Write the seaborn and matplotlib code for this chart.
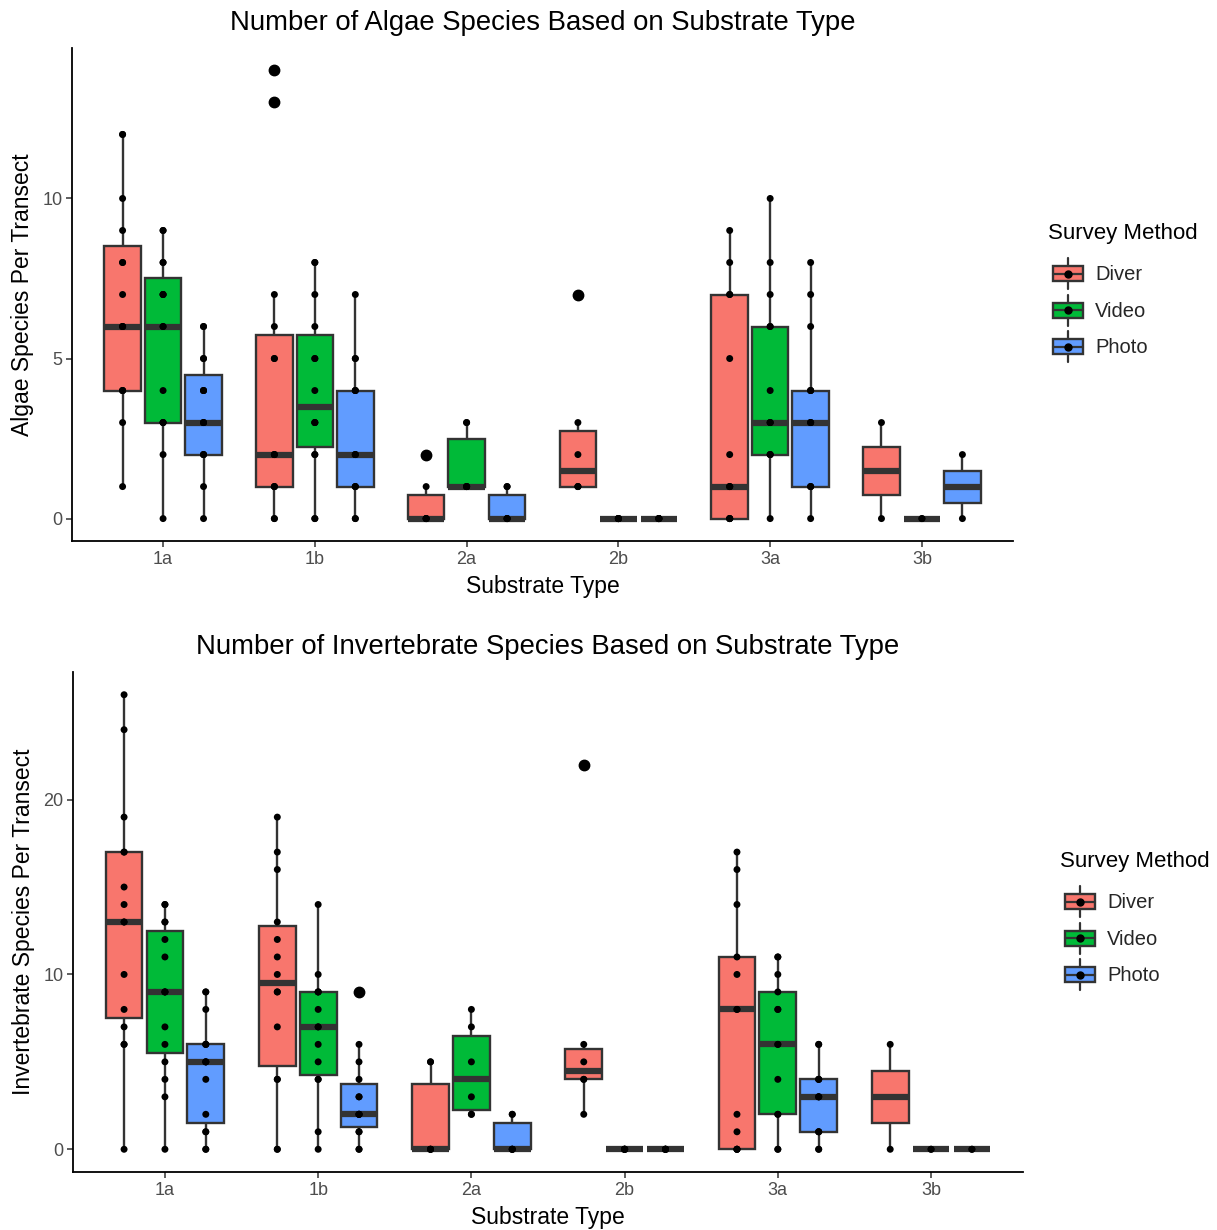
import numpy as np
import pandas as pd
import matplotlib
matplotlib.use("Agg")
import matplotlib.pyplot as plt
import seaborn as sns
from matplotlib.patches import Patch, Rectangle
from matplotlib.lines import Line2D
from matplotlib.legend_handler import HandlerBase

# ---------------- data ----------------
SUBSTRATES = ["1a", "1b", "2a", "2b", "3a", "3b"]
METHODS = ["Diver", "Video", "Photo"]

# Algae species per transect (one list per substrate, in SUBSTRATES order)
algae_diver = [
    [1, 3, 4, 4, 4, 6, 6, 6, 7, 8, 8, 9, 10, 12, 12],
    [0, 0, 1, 1, 1, 2, 2, 2, 5, 5, 6, 7, 13, 14],
    [0, 0, 0, 0, 1, 2],
    [1, 1, 1, 2, 3, 7],
    [0, 0, 0, 0, 1, 1, 1, 2, 5, 7, 7, 8, 9],
    [0, 3],
]
algae_video = [
    [0, 2, 3, 3, 3, 4, 6, 6, 7, 7, 7, 8, 8, 9, 9],
    [0, 0, 2, 2, 3, 3, 3, 4, 5, 5, 6, 7, 8, 8],
    [1, 1, 1, 1, 3, 3],
    [0, 0, 0, 0, 0, 0],
    [0, 2, 2, 2, 3, 3, 3, 4, 6, 6, 7, 8, 10],
    [0, 0],
]
algae_photo = [
    [0, 1, 2, 2, 2, 3, 3, 3, 4, 4, 4, 5, 5, 6, 6],
    [0, 0, 1, 1, 1, 2, 2, 2, 4, 4, 4, 5, 5, 7],
    [0, 0, 0, 0, 1, 1],
    [0, 0, 0, 0, 0, 0],
    [0, 1, 1, 1, 3, 3, 3, 4, 4, 4, 6, 7, 8],
    [0, 2],
]

# Invertebrate species per transect
invert_diver = [
    [0, 6, 6, 7, 8, 10, 13, 13, 14, 15, 17, 17, 19, 24, 26],
    [0, 0, 4, 4, 7, 9, 9, 10, 11, 12, 13, 16, 17, 19],
    [0, 0, 0, 0, 5, 5],
    [2, 4, 4, 5, 6, 22],
    [0, 0, 0, 0, 1, 2, 8, 8, 10, 11, 14, 16, 17],
    [0, 6],
]
invert_video = [
    [0, 3, 4, 5, 6, 7, 9, 9, 9, 11, 12, 13, 13, 14, 14],
    [0, 1, 4, 4, 5, 6, 7, 7, 8, 9, 9, 9, 10, 14],
    [2, 2, 3, 5, 7, 8],
    [0, 0, 0, 0, 0, 0],
    [0, 0, 2, 2, 4, 6, 6, 8, 8, 9, 10, 11, 11],
    [0, 0],
]
invert_photo = [
    [0, 0, 1, 1, 2, 4, 5, 5, 5, 6, 6, 6, 8, 9, 9],
    [0, 0, 1, 1, 2, 2, 2, 2, 3, 3, 4, 5, 6, 9],
    [0, 0, 0, 0, 2, 2],
    [0, 0, 0, 0, 0, 0],
    [0, 0, 1, 1, 1, 3, 3, 3, 4, 4, 4, 6, 6],
    [0, 0],
]

ALGAE_TICKS = [0, 5, 10]
INVERT_TICKS = [0, 10, 20]

# ---------------- style ----------------
sns.set_theme(style="white")
plt.rcParams["font.family"] = ["Liberation Sans", "DejaVu Sans"]

COLORS = {"Diver": "#F8766D", "Video": "#00BA38", "Photo": "#619CFF"}
EDGE = "#333333"


def long_df(diver, video, photo):
    rows = []
    for method, series in zip(METHODS, (diver, video, photo)):
        for sub, vals in zip(SUBSTRATES, series):
            for v in vals:
                rows.append((sub, method, v))
    return pd.DataFrame(rows, columns=["Substrate", "Method", "Count"])


class BoxKey(HandlerBase):
    def create_artists(self, legend, orig_handle, xdescent, ydescent,
                       width, height, fontsize, trans):
        fc = orig_handle.get_facecolor()
        cx = -xdescent + width / 2
        cy = -ydescent + height / 2
        bw = width * 0.97
        bh = height * 0.48
        rect = Rectangle((cx - bw / 2, cy - bh / 2), bw, bh, facecolor=fc,
                         edgecolor=EDGE, lw=1.7, transform=trans)
        wl = Line2D([cx, cx], [-ydescent, cy - bh / 2], color=EDGE, lw=1.6,
                    transform=trans)
        wu = Line2D([cx, cx], [cy + bh / 2, -ydescent + height], color=EDGE,
                    lw=1.6, transform=trans)
        med = Line2D([cx - bw / 2, cx + bw / 2], [cy, cy], color=EDGE, lw=1.6,
                     transform=trans)
        dot = Line2D([cx], [cy], marker="o", ms=5, color="black",
                     linestyle="none", transform=trans)
        return [rect, wl, wu, med, dot]


W, H = 1217, 1230
fig = plt.figure(figsize=(W / 100, H / 100), dpi=100)
fig.patch.set_facecolor("white")


def add_ax(l, t, r, b):
    return fig.add_axes([l / W, 1 - b / H, (r - l) / W, (b - t) / H])


def draw(ax, df, ylim, yticks, title, ylabel, title_xy, leg_xy):
    sns.boxplot(data=df, x="Substrate", y="Count", hue="Method",
                order=SUBSTRATES, hue_order=METHODS, palette=COLORS,
                saturation=1, width=0.8, gap=0.1, linecolor=EDGE,
                linewidth=1.7, showcaps=False,
                flierprops=dict(marker="o", markerfacecolor="black",
                                markeredgecolor="black", markersize=7.5),
                medianprops=dict(color=EDGE, linewidth=4.5),
                legend=False, ax=ax)
    sns.stripplot(data=df, x="Substrate", y="Count", hue="Method",
                  order=SUBSTRATES, hue_order=METHODS,
                  palette={m: "black" for m in METHODS}, dodge=True,
                  jitter=False, size=5, legend=False, zorder=4, ax=ax)
    ax.set_xlim(-0.6, 5.6)
    ax.set_ylim(*ylim)
    ax.set_yticks(yticks)
    for s in ("top", "right"):
        ax.spines[s].set_visible(False)
    for s in ("left", "bottom"):
        ax.spines[s].set_color("black")
        ax.spines[s].set_linewidth(1.3)
    ax.tick_params(bottom=True, left=True, direction="out", length=4,
                   width=1.1, color=EDGE, labelcolor="#4D4D4D",
                   labelsize=13, pad=3)
    ax.set_title(title, fontsize=19.8, pad=13, color="black")
    ax.set_xlabel("Substrate Type", fontsize=16.5, labelpad=5, color="black")
    ax.set_ylabel(ylabel, fontsize=16.5, labelpad=6, color="black")
    fig.text(title_xy[0] / W, 1 - title_xy[1] / H, "Survey Method",
             fontsize=16, ha="left", va="center", color="black")
    handles = [Patch(facecolor=COLORS[m]) for m in METHODS]
    fig.legend(handles, METHODS, loc="upper left",
               bbox_to_anchor=(leg_xy[0] / W, 1 - leg_xy[1] / H),
               frameon=False, fontsize=14.5,
               handler_map={Patch: BoxKey()}, handlelength=1.5,
               handleheight=2.0, labelspacing=0.27, handletextpad=0.6,
               borderpad=0, borderaxespad=0)


ax1 = add_ax(72, 48, 1013, 541)
ax2 = add_ax(73, 672, 1023, 1172)

draw(ax1, long_df(algae_diver, algae_video, algae_photo), (-0.7, 14.7),
     ALGAE_TICKS, "Number of Algae Species Based on Substrate Type",
     "Algae Species Per Transect", (1048, 233), (1053, 258))
draw(ax2, long_df(invert_diver, invert_video, invert_photo), (-1.3, 27.3),
     INVERT_TICKS, "Number of Invertebrate Species Based on Substrate Type",
     "Invertebrate Species Per Transect", (1060, 862), (1065, 886))

fig.savefig("out.png", dpi=100, facecolor="white")
